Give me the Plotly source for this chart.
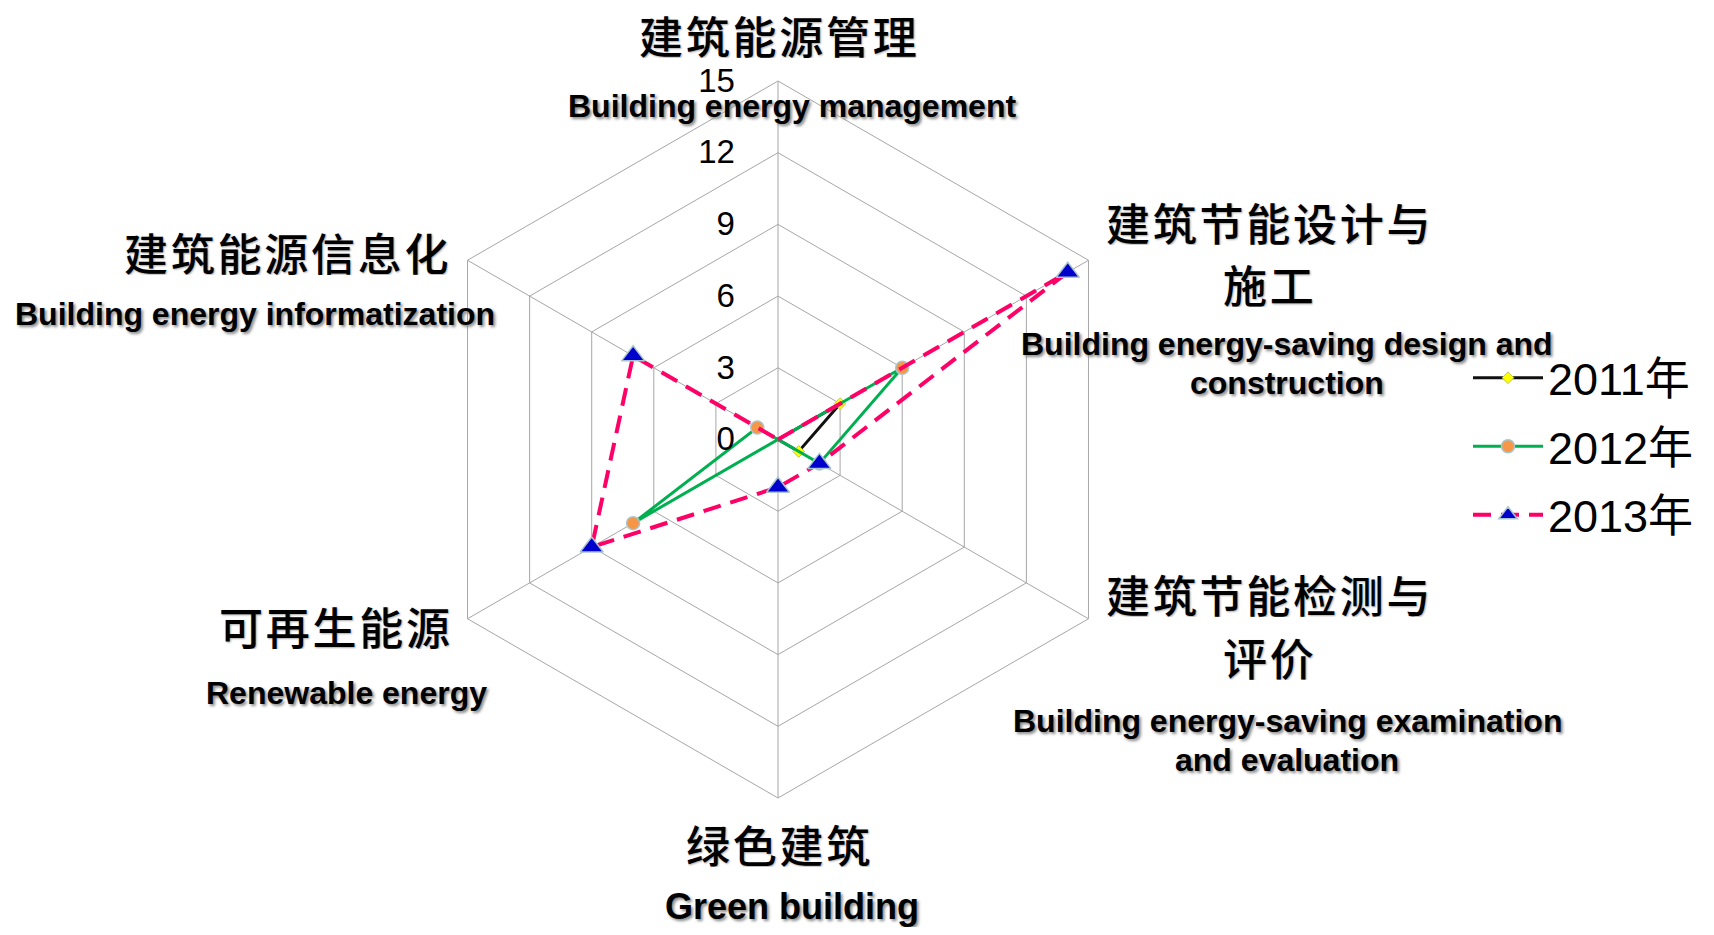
import plotly.graph_objects as go

# ---------------- data ----------------
categories_cn = ["建筑能源管理", "建筑节能设计与\n施工", "建筑节能检测与\n评价", "绿色建筑", "可再生能源", "建筑能源信息化"]
categories_en = ["Building energy management", "Building energy-saving design and\nconstruction",
                 "Building energy-saving examination\nand evaluation", "Green building",
                 "Renewable energy", "Building energy informatization"]
series_names = ["2011年", "2012年", "2013年"]
values_2011 = [0, 3, 1, 0, 0, 0]
values_2012 = [0, 6, 2, 0, 7, 1]
values_2013 = [0, 14, 2, 2, 9, 7]
radial_ticks = [0, 3, 6, 9, 12, 15]

OFF = 8  # default page body margin
W, H = 1714 - 2 * OFF, 935 - 2 * OFF
cx, cy, R = 778 - OFF, 439.5 - OFF, 358.5

def px(x, y):
    return (x - OFF) / W, 1 - (y - OFF) / H

fig = go.Figure()

cat_ids = [str(i) for i in range(6)]
theta_c = [cat_ids[i] for i in list(range(6)) + [0]]
def closed(v):
    return list(v) + [v[0]]

fig.add_trace(go.Scatterpolar(
    r=closed(values_2011), theta=theta_c, name=series_names[0], mode="lines+markers",
    line=dict(color="#111111", width=3),
    marker=dict(symbol="diamond", size=9, color="#FFFF00", line=dict(color="#B8C850", width=1)),
    legendgroup="a",
))
fig.add_trace(go.Scatterpolar(
    r=closed(values_2012), theta=theta_c, name=series_names[1], mode="lines+markers",
    line=dict(color="#00B050", width=3),
    marker=dict(symbol="circle", size=13, color="#F79646", line=dict(color="#A9C4CC", width=1.5)),
    legendgroup="b",
))
fig.add_trace(go.Scatterpolar(
    r=closed(values_2013), theta=theta_c, name=series_names[2], mode="lines+markers",
    line=dict(color="#FF0066", width=4, dash="18px,10px"),
    marker=dict(symbol="triangle-up", size=20, color="#0000CC", line=dict(color="#A9C4CC", width=1.5)),
    legendgroup="c",
))

grid = "#A6A6A6"
fig.update_layout(
    width=W, height=H,
    margin=dict(l=0, r=0, t=0, b=0),
    paper_bgcolor="white",
    polar=dict(
        domain=dict(x=[(cx - R) / W, (cx + R) / W], y=[(H - cy - R) / H, (H - cy + R) / H]),
        gridshape="linear",
        bgcolor="white",
        radialaxis=dict(
            range=[0, 15], tickvals=radial_ticks, ticktext=[str(t) for t in radial_ticks],
            angle=90, tickangle=90, showline=False, gridcolor=grid, gridwidth=1,
            ticks="outside", ticklen=31, tickcolor="rgba(0,0,0,0)", side="counterclockwise",
            tickfont=dict(family="Liberation Sans, Arial", size=33, color="black"),
        ),
        angularaxis=dict(
            type="category", categoryarray=cat_ids, rotation=90, direction="clockwise",
            showticklabels=False, ticks="", gridcolor=grid, gridwidth=1,
            linecolor=grid, linewidth=1, showline=True,
        ),
    ),
    showlegend=True,
    legend=dict(
        x=(1468 - OFF) / W, y=1 - (342 - OFF) / H, xanchor="left", yanchor="top",
        font=dict(family="Liberation Sans, Noto Sans CJK SC", size=45, color="black"),
        traceorder="grouped", tracegroupgap=7, itemwidth=70,
        bgcolor="rgba(0,0,0,0)",
    ),
)

# category labels, one annotation per line (page pixel positions)
cn_pos = [[(778, 35)], [(1268, 222), (1268, 284)], [(1268, 594), (1268, 657)],
          [(778, 844)], [(334, 626)], [(286, 252)]]
en_pos = [[(792, 106)], [(1287, 344), (1287, 383)], [(1287, 721), (1287, 760)],
          [(792, 906)], [(346, 693)], [(255, 314)]]
en_size = [32, 32, 32, 36, 32, 32]
cn_font = dict(family="Noto Sans CJK SC", size=44, weight=500, color="black", shadow="1px 1px 2px #aaa")
for i in range(6):
    for line, (x, y) in zip(categories_cn[i].split("\n"), cn_pos[i]):
        xx, yy = px(x, y)
        fig.add_annotation(x=xx, y=yy, xref="paper", yref="paper", text="\u200a".join(list(line)),
                           showarrow=False, xanchor="center", yanchor="middle", font=cn_font,
                           height=46)
    for line, (x, y) in zip(categories_en[i].split("\n"), en_pos[i]):
        xx, yy = px(x, y)
        fig.add_annotation(x=xx, y=yy, xref="paper", yref="paper", text="<b>" + line + "</b>",
                           showarrow=False, xanchor="center", yanchor="middle",
                           font=dict(family="Liberation Sans, Arial", size=en_size[i], color="black",
                                     shadow="2px 2px 3px #888"))

fig.write_html("out.html")
